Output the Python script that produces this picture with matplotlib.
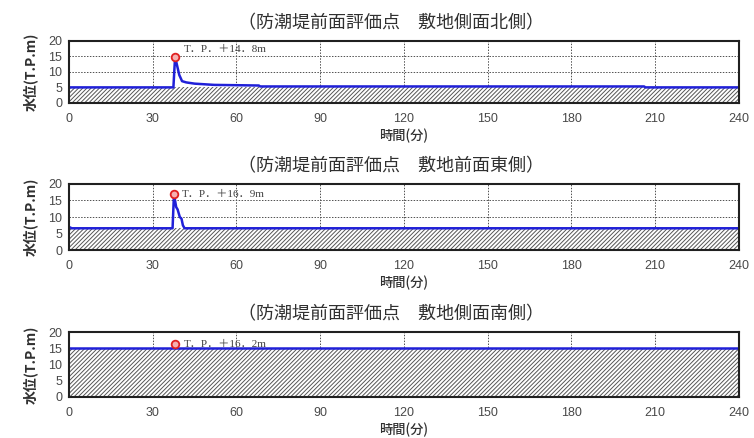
import numpy as np
import matplotlib
matplotlib.use('Agg')
import matplotlib.pyplot as plt

plt.rcParams['font.family'] = ['Noto Sans CJK JP', 'DejaVu Sans']
plt.rcParams['hatch.linewidth'] = 0.7
plt.rcParams['hatch.color'] = '#555555'

# データ
titles = ['（防潮堤前面評価点　敷地側面北側）',
          '（防潮堤前面評価点　敷地前面東側）',
          '（防潮堤前面評価点　敷地側面南側）']

t_north = [0, 37.4, 38.0, 38.6, 39.5, 40.5, 42, 45, 52, 60, 68, 68.5, 206, 206.5, 240]
h_north = [5.0, 5.0, 14.8, 12.5, 9.0, 7.0, 6.6, 6.2, 5.8, 5.7, 5.6, 5.3, 5.3, 5.0, 5.0]

t_east = [0, 1, 37.1, 37.6, 38.4, 38.9, 39.7, 40.3, 40.8, 41.4, 240]
h_east = [7.0, 6.6, 6.6, 16.9, 13.0, 12.3, 10.0, 9.5, 7.5, 6.6, 6.6]

t_south = [0, 240]
h_south = [15.0, 15.0]

ground = [5.0, 6.6, 15.0]          # 敷地高さ(ハッチ部)
peak_t = [38.0, 37.6, 38.0]
peak_h = [14.8, 16.9, 16.2]
peak_labels = ['T．P．＋14．8m', 'T．P．＋16．9m', 'T．P．＋16．2m']

series = [(t_north, h_north), (t_east, h_east), (t_south, h_south)]

fig = plt.figure(figsize=(7.54, 4.38), dpi=100)

# 各サブプロットの位置 (left, bottom, width, height)
rects = [(0.0915, 0.765, 0.8886, 0.142),
         (0.0915, 0.429, 0.8886, 0.151),
         (0.0915, 0.094, 0.8886, 0.148)]
label_dy = [5, 0, 0]

for i in range(3):
    ax = fig.add_axes(rects[i])
    t, h = series[i]
    ax.set_axisbelow(True)
    ax.fill_between([0, 240], 0, ground[i], facecolor='white', hatch='////////',
                    edgecolor='#555555', linewidth=0, zorder=2)
    ax.plot(t, h, color='#2020d8', linewidth=1.8, zorder=3)
    ax.plot(peak_t[i], peak_h[i], 'o', markersize=5.5, markerfacecolor='#f6b0b0',
            markeredgecolor='#e02020', markeredgewidth=1.3, zorder=4)
    ax.annotate(peak_labels[i], (peak_t[i], peak_h[i]), xytext=(6, label_dy[i]),
                textcoords='offset points', va='center', ha='left', fontsize=8,
                color='#404040', family=['Liberation Serif', 'Noto Sans CJK JP'],
                zorder=5)

    ax.set_xlim(0, 240)
    ax.set_ylim(0, 20)
    ax.set_xticks(np.arange(0, 241, 30))
    ax.set_yticks(np.arange(0, 21, 5))
    ax.tick_params(length=0, labelsize=9, labelcolor='#484848')
    ax.tick_params(axis='x', pad=7)
    ax.tick_params(axis='y', pad=5)
    for lab in ax.get_xticklabels() + ax.get_yticklabels():
        lab.set_family(['Liberation Sans', 'DejaVu Sans'])
    ax.grid(True, color='#505050', linestyle=(0, (1.5, 1.5)), linewidth=0.7)
    for s in ax.spines.values():
        s.set_linewidth(1.5)
        s.set_color('#202020')
        s.set_zorder(6)

    ax.set_title(titles[i], fontsize=13, color='#303030', pad=9, x=0.48)
    ax.set_xlabel('時間(分)', fontsize=9.5, fontweight='medium', color='#303030', labelpad=3)
    ax.set_ylabel('水位(T.P.m)', fontsize=10, fontweight='bold', color='#303030', labelpad=7)

fig.savefig('out.png', dpi=100)
